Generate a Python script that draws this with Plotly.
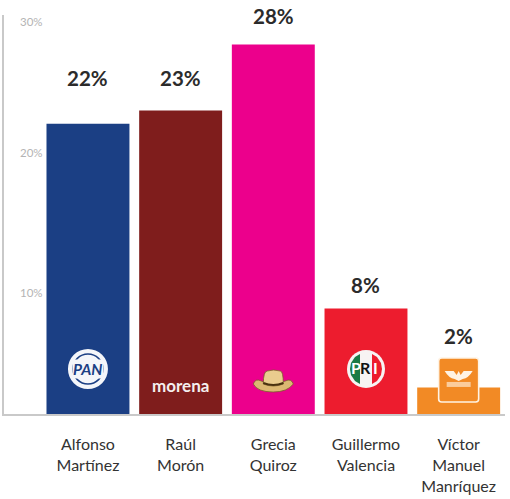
import plotly.graph_objects as go

categories = ["Alfonso<br>Martínez", "Raúl<br>Morón", "Grecia<br>Quiroz", "Guillermo<br>Valencia", "Víctor<br>Manuel<br>Manríquez"]
values = [22, 23, 28, 8, 2]
colors = ["#1b3f84", "#7f1d1c", "#ec008c", "#ed1c2e", "#f28a25"]
value_labels = ["22%", "23%", "28%", "8%", "2%"]
value_label_y = [25.45, 25.45, 30.15, 9.8, 5.9]
axis_labels = ["0%", "10%", "20%", "30%"]
axis_label_y = [-0.9, 9.2, 19.85, 29.75]

FONT = "Lato"
W, H = 510, 499
L, R, T, B = 3.5, 5, 15, 85

fig = go.Figure(go.Bar(x=categories, y=values, marker=dict(color=colors, line_width=0), width=0.895))

ann = []
for c, t, y in zip(categories, value_labels, value_label_y):
    ann.append(dict(x=c, y=y, xref="x", yref="y", text=f"<b>{t}</b>", showarrow=False, yanchor="middle",
                    font=dict(family=FONT, size=20.5, color="#2b2b2b")))
for t, y in zip(axis_labels, axis_label_y):
    ann.append(dict(x=28 / W, y=y, xref="paper", yref="y", text=t, showarrow=False, yanchor="middle",
                    xanchor="center", font=dict(family=FONT, size=11.5, color="#b4b4b4")))


def px_shape(cat, y, path=None, kind="path", box=None, **kw):
    s = dict(type=kind, xref="x", yref="y", xsizemode="pixel", ysizemode="pixel",
             xanchor=cat, yanchor=y, layer="above", **kw)
    if kind == "path":
        s["path"] = path
    else:
        s.update(x0=box[0], x1=box[2], y0=box[1], y1=box[3])
    return s


shapes = []
# PAN logo
pan_y, pri_y = 3.41, 3.41
shapes.append(px_shape(0, pan_y, kind="circle", box=(-20, -20, 20, 20), fillcolor="#f4f6fa", line_width=0))
shapes.append(px_shape(0, pan_y, kind="circle", box=(-15, -15, 15, 15), fillcolor="rgba(0,0,0,0)",
                       line=dict(color="#1b3f84", width=1.5)))
ann.append(dict(x=0, y=pan_y, xref="x", yref="y", text="<b><i>PAN</i></b>", showarrow=False, bgcolor="#f4f6fa",
                borderpad=0, font=dict(family=FONT, size=15.5, color="#1b3f84")))
# morena wordmark
ann.append(dict(x=1, y=2.18, xref="x", yref="y", text="<b>morena</b>", showarrow=False,
                font=dict(family=FONT, size=17, color="#f4eeee")))
# Hat
hat_y = 2.5
shapes.append(px_shape(2, hat_y, path="M -20 -3 Q -18 3 -12 0 Q 0 -5 12 0 Q 18 3 20 -3 Q 14 -11 0 -11 Q -16 -11 -20 -3 Z",
                       fillcolor="#dcb872", line=dict(color="#7a5a2a", width=0.8)))
shapes.append(px_shape(2, hat_y, path="M -10 -3 Q -10 10 -6 10 Q 0 12 7 10 Q 10 10 10 -3 Q 0 -7 -10 -3 Z",
                       fillcolor="#eacc8e", line=dict(color="#7a5a2a", width=0.8)))
shapes.append(px_shape(2, hat_y, path="M -10 -2 Q 0 -6 10 -2", fillcolor="rgba(0,0,0,0)",
                       line=dict(color="#4a3210", width=2)))
# PRI logo
shapes.append(px_shape(3, pri_y, kind="circle", box=(-19, -19, 19, 19), fillcolor="#f7f3f3", line_width=0))
shapes.append(px_shape(3, pri_y, path="M -6 -15 L -11 -12 L -15 -6 L -16 0 L -15 6 L -11 12 L -6 15 Z",
                       fillcolor="#1a7a45", line_width=0))
shapes.append(px_shape(3, pri_y, path="M 6 -15 L 11 -12 L 15 -6 L 16 0 L 15 6 L 11 12 L 6 15 Z",
                       fillcolor="#ed1c2e", line_width=0))
for dx, t, col in [(-10, "P", "white"), (0, "R", "#111111"), (10, "I", "white")]:
    ann.append(dict(x=3, y=pri_y + 0.1, xref="x", yref="y", xshift=dx, text=f"<b>{t}</b>", showarrow=False,
                    font=dict(family=FONT, size=16, color=col)))
# Movimiento Ciudadano logo
mc_y = 2.58
shapes.append(px_shape(4, mc_y, path="M -17 -22 L 17 -22 Q 20 -22 20 -19 L 20 19 Q 20 22 17 22 L -17 22 Q -20 22 -20 19 L -20 -19 Q -20 -22 -17 -22 Z",
                       fillcolor="#f28a25", line=dict(color="#fff3e4", width=1.6)))
shapes.append(px_shape(4, mc_y, path="M -14 9 L -5 9 L -2 5 L 0 9 L 2 5 L 5 9 L 14 9 Q 10 2 4 1 L 0 -1 L -4 1 Q -10 2 -14 9 Z",
                       fillcolor="#fff3e4", line_width=0))
shapes.append(px_shape(4, mc_y, kind="rect", box=(-12, -7, 12, -2), fillcolor="rgba(255,240,220,0.65)", line_width=0))

fig.update_layout(
    width=W, height=H, autosize=False, showlegend=False, paper_bgcolor="white", plot_bgcolor="white",
    margin=dict(l=L, r=R, t=T, b=B), annotations=ann, shapes=shapes,
    xaxis=dict(type="category", range=[-0.906, 4.5], tickmode="array", tickvals=categories, ticktext=categories,
               automargin=False, showline=True, linecolor="#c9c9c9", linewidth=2, ticks="outside", ticklen=15,
               tickcolor="white", tickfont=dict(family=FONT, size=16, color="#333333"), showgrid=False,
               zeroline=False, tickangle=0),
    yaxis=dict(range=[0, 30.23], automargin=False, showticklabels=False, ticks="", showline=True,
               linecolor="#c9c9c9", linewidth=2, showgrid=False, zeroline=False),
)
fig.write_html("out.html", config=dict(displayModeBar=False),
               post_script="document.body.style.margin='0';document.documentElement.style.overflow='hidden';")
